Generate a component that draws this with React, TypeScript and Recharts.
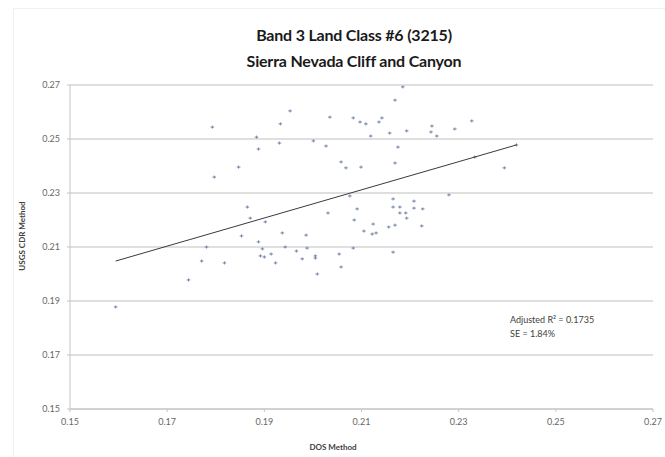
import { ScatterChart, Scatter, XAxis, YAxis, CartesianGrid } from 'recharts'

// DOS method (x) vs USGS CDR method (y)
const dosValues = [
  0.1594, 0.1744, 0.1771, 0.1781, 0.1818, 0.1793, 0.1797, 0.1847, 0.1865, 0.1853,
  0.1953, 0.1933, 0.1884, 0.1931, 0.1888, 0.2185, 0.2169, 0.2035, 0.2083, 0.2097,
  0.2109, 0.2136, 0.2142, 0.2158, 0.2193, 0.2245, 0.2243, 0.2255, 0.2292, 0.2327,
  0.2001, 0.2027, 0.2119, 0.2175, 0.2058, 0.2068, 0.2099, 0.2169, 0.2076, 0.2280,
  0.1871, 0.1902, 0.2031, 0.2091, 0.2085, 0.2165, 0.2165, 0.2179, 0.2208, 0.2208,
  0.2179, 0.2191, 0.2226, 0.2193, 0.2224, 0.2124, 0.2105, 0.2122, 0.2130, 0.2156,
  0.2169, 0.1937, 0.1986, 0.1888, 0.1943, 0.1896, 0.1892, 0.1900, 0.1914, 0.1923,
  0.1966, 0.1988, 0.1978, 0.2005, 0.2005, 0.2054, 0.2083, 0.2165, 0.2058, 0.2009,
  0.2333, 0.2419, 0.2394,
]
const cdrValues = [
  0.1878, 0.1978, 0.2048, 0.2100, 0.2041, 0.2544, 0.2359, 0.2396, 0.2248, 0.2141,
  0.2604, 0.2556, 0.2507, 0.2485, 0.2463, 0.2693, 0.2644, 0.2581, 0.2578, 0.2563,
  0.2556, 0.2563, 0.2578, 0.2522, 0.2530, 0.2548, 0.2526, 0.2511, 0.2537, 0.2567,
  0.2493, 0.2474, 0.2511, 0.2470, 0.2415, 0.2393, 0.2396, 0.2411, 0.2289, 0.2293,
  0.2207, 0.2193, 0.2226, 0.2241, 0.2200, 0.2278, 0.2248, 0.2248, 0.2270, 0.2244,
  0.2226, 0.2226, 0.2241, 0.2207, 0.2178, 0.2185, 0.2159, 0.2148, 0.2152, 0.2174,
  0.2181, 0.2152, 0.2144, 0.2119, 0.2100, 0.2093, 0.2067, 0.2063, 0.2074, 0.2041,
  0.2085, 0.2096, 0.2056, 0.2067, 0.2059, 0.2074, 0.2096, 0.2081, 0.2026, 0.2000,
  0.2433, 0.2478, 0.2393,
]

// linear trend line end points
const trendX = [0.1594, 0.2419]
const trendY = [0.2048, 0.2478]

const axisTicks = [0.15, 0.17, 0.19, 0.21, 0.23, 0.25, 0.27]

const points = dosValues.map((x, i) => ({ x, y: cdrValues[i] }))
const trend = trendX.map((x, i) => ({ x, y: trendY[i] }))

const font = 'Lato, "Open Sans", sans-serif'

function Marker(props: any) {
  const { cx, cy } = props
  return (
    <g stroke="#7086a8" strokeWidth={1}>
      <line x1={cx - 1.8} y1={cy} x2={cx + 1.8} y2={cy} />
      <line x1={cx} y1={cy - 1.5} x2={cx} y2={cy + 1.5} />
    </g>
  )
}

function App() {
  return (
    <div style={{ position: 'absolute', left: 0, top: 0, width: 665, height: 457, background: '#fff', fontFamily: font }}>
      <div style={{ position: 'absolute', left: 13, top: 8, width: 651, height: 448, border: '1px solid #f0f0f0' }} />
      <div style={{ position: 'absolute', left: 0, width: 708, top: 22, textAlign: 'center', fontWeight: 700, fontSize: 16, lineHeight: '26px', color: '#1a1a1a', letterSpacing: -0.2 }}>
        Band 3 Land Class #6 (3215)<br />Sierra Nevada Cliff and Canyon
      </div>
      <ScatterChart width={665} height={457} margin={{ top: 85, right: 12, bottom: 18, left: 0 }}>
        <CartesianGrid vertical={false} stroke="#d4d4d4" strokeWidth={1.5} />
        <XAxis
          dataKey="x"
          type="number"
          domain={[0.15, 0.27]}
          ticks={axisTicks}
          tickFormatter={(v: number) => v.toFixed(2)}
          height={30}
          tickSize={3}
          tickMargin={7}
          stroke="#c4c4c4"
          tick={{ fill: '#666666', fontSize: 9, fontFamily: font }}
        />
        <YAxis
          dataKey="y"
          type="number"
          domain={[0.15, 0.27]}
          ticks={axisTicks}
          tickFormatter={(v: number) => v.toFixed(2)}
          width={70}
          tickSize={3}
          tickMargin={7}
          stroke="#c4c4c4"
          tick={{ fill: '#666666', fontSize: 9, fontFamily: font }}
        />
        <Scatter data={points} shape={Marker} isAnimationActive={false} />
        <Scatter
          data={trend}
          line={{ stroke: '#3a3a3a', strokeWidth: 1 }}
          shape={() => <g />}
          isAnimationActive={false}
        />
      </ScatterChart>
      <div style={{ position: 'absolute', left: 283, top: 441, width: 100, textAlign: 'center', fontSize: 8, fontWeight: 700, lineHeight: '12px', color: '#404040' }}>
        DOS Method
      </div>
      <div style={{ position: 'absolute', left: 22 - 50, top: 236 - 6, width: 100, textAlign: 'center', fontSize: 8, fontWeight: 700, lineHeight: '12px', color: '#404040', transform: 'rotate(-90deg)' }}>
        USGS CDR Method
      </div>
      <div style={{ position: 'absolute', left: 510, top: 313, fontSize: 9, lineHeight: '14px', color: '#404040' }}>
        Adjusted R² = 0.1735<br />SE = 1.84%
      </div>
    </div>
  )
}

export default App
